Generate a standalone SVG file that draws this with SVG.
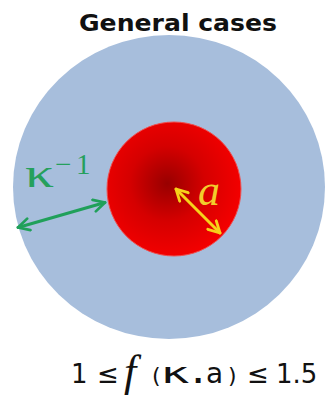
<svg xmlns="http://www.w3.org/2000/svg" width="335" height="401" viewBox="0 0 335 401">
  <style>
    .title { font-family: "DejaVu Sans", "Liberation Sans", sans-serif; font-weight: bold; font-size: 23px; fill: #111; }
    .math { font-family: "Liberation Serif", "DejaVu Serif", serif; }
    .formula { font-family: "DejaVu Sans", "Liberation Sans", sans-serif; fill: #111; }
    .green { stroke: #20a05a; }
    .yellow { stroke: #f6d21a; }
  </style>
  <defs>
    <radialGradient id="redGrad" cx="0.45" cy="0.46" r="0.56">
      <stop offset="0" stop-color="#980000"/>
      <stop offset="0.5" stop-color="#d50000"/>
      <stop offset="1" stop-color="#f40000"/>
    </radialGradient>
    <marker id="gHead" viewBox="0 0 10 10" refX="9" refY="5" markerWidth="5" markerHeight="5" orient="auto-start-reverse" markerUnits="strokeWidth">
      <path d="M1.5,1 L9,5 L1.5,9" fill="none" stroke="#20a05a" stroke-width="1.8" stroke-linecap="round" stroke-linejoin="round"/>
    </marker>
    <marker id="yHead" viewBox="0 0 10 10" refX="9" refY="5" markerWidth="5" markerHeight="5" orient="auto-start-reverse" markerUnits="strokeWidth">
      <path d="M1.5,1 L9,5 L1.5,9" fill="none" stroke="#f6d21a" stroke-width="1.9" stroke-linecap="round" stroke-linejoin="round"/>
    </marker>
  </defs>
  <rect width="335" height="401" fill="#ffffff"/>

  <g id="title">
    <text class="title" x="79" y="31" textLength="198" lengthAdjust="spacingAndGlyphs">General cases</text>
  </g>

  <g id="double-layer">
    <ellipse cx="169" cy="187" rx="156" ry="152" fill="#a7bedc"/>
  </g>

  <g id="particle">
    <circle cx="174" cy="189" r="67" fill="url(#redGrad)" stroke="#ee5050" stroke-width="1"/>
  </g>

  <g id="connectors" fill="none" stroke-width="3" stroke-linecap="round">
    <line class="green" x1="18" y1="227.5" x2="105" y2="202.5" marker-start="url(#gHead)" marker-end="url(#gHead)"/>
    <line class="yellow" x1="176" y1="189" x2="220" y2="233" marker-start="url(#yHead)" marker-end="url(#yHead)"/>
  </g>

  <g id="kappa-label" fill="#25a05c" class="math">
    <text x="25" y="187" font-size="40" textLength="29" lengthAdjust="spacingAndGlyphs">κ</text>
    <text y="174" font-size="29"><tspan x="55">−</tspan><tspan x="76">1</tspan></text>
  </g>

  <g id="a-label">
    <text class="math" x="198" y="205" font-size="44" font-style="italic" fill="#f2cc2c">a</text>
  </g>

  <g id="formula">
    <text class="formula" y="383" font-size="26"><tspan x="71">1</tspan><tspan x="97">≤</tspan><tspan x="124" class="math" font-style="italic" font-size="44" dy="3">f</tspan><tspan x="152" font-size="22" dy="-3">(</tspan><tspan x="193" font-weight="bold" font-size="27">.</tspan><tspan x="206" font-size="28">a</tspan><tspan x="228" font-size="22">)</tspan><tspan x="247">≤</tspan><tspan x="276">1.5</tspan></text>
    <text class="formula" x="161" y="383" font-size="28" textLength="29" lengthAdjust="spacingAndGlyphs">κ</text>
  </g>
</svg>
